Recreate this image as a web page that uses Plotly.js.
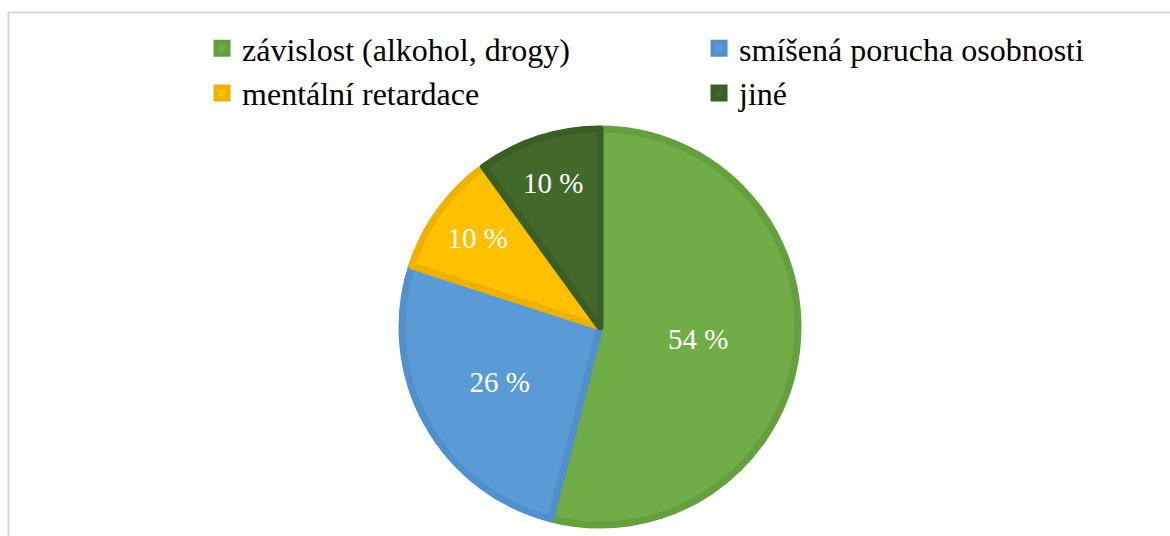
<!DOCTYPE html>
<html>
<head>
<meta charset="utf-8">
<script src="https://cdn.plot.ly/plotly-3.0.1.min.js"></script>
<style>html,body{margin:0;padding:0;background:#fff;}#chart{width:1170px;height:536px;}</style>
</head>
<body>
<div id="chart"></div>
<script>
const categories = ['závislost (alkohol, drogy)', 'smíšená porucha osobnosti', 'mentální retardace', 'jiné'];
const values = [54, 26, 10, 10];
const labelTexts = values.map(v => v + ' %');
const fillColors = ['#70AD47', '#5B9BD5', '#FFC000', '#43682B'];
const edgeColors = ['#64A03D', '#5290CB', '#EDB200', '#3B5E25'];

const W = 1170, H = 536;
const ML = 203, MT = 120;
const PW = W - ML, PH = H - MT;
const cx = 600, cy = 327, r = 198;

const trace = {
  type: 'pie',
  labels: categories,
  values: values,
  text: labelTexts,
  textinfo: 'text',
  textposition: 'inside',
  insidetextorientation: 'horizontal',
  sort: false,
  direction: 'clockwise',
  rotation: 0,
  hoverinfo: 'label+percent',
  marker: {colors: fillColors, line: {color: edgeColors, width: 7}},
  insidetextfont: {family: 'Liberation Serif, Times New Roman, serif', size: 29, color: '#ffffff'},
  domain: {
    x: [(cx - r - ML) / PW, (cx + r - ML) / PW],
    y: [(H - cy - r) / PH, (H - cy + r) / PH]
  }
};

const layout = {
  width: W, height: H,
  margin: {l: ML, r: 0, t: MT, b: 0, autoexpand: false},
  paper_bgcolor: '#ffffff',
  plot_bgcolor: 'rgba(0,0,0,0)',
  showlegend: true,
  legend: {
    orientation: 'h',
    x: -0.001, xanchor: 'left',
    y: 1 + (MT - 21) / PH, yanchor: 'top',
    entrywidth: 452, entrywidthmode: 'pixels',
    font: {family: 'Liberation Serif, Times New Roman, serif', size: 32, color: '#000000'},
    bgcolor: 'rgba(0,0,0,0)'
  },
  shapes: [{
    type: 'rect', xref: 'paper', yref: 'paper',
    x0: (8.5 - ML) / PW, x1: 1.02, y0: -0.02, y1: (H - 12.5) / PH,
    line: {color: '#d9d9d9', width: 2}, fillcolor: 'rgba(0,0,0,0)'
  }]
};

Plotly.newPlot('chart', [trace], layout, {displayModeBar: false, staticPlot: true});
</script>
</body>
</html>
